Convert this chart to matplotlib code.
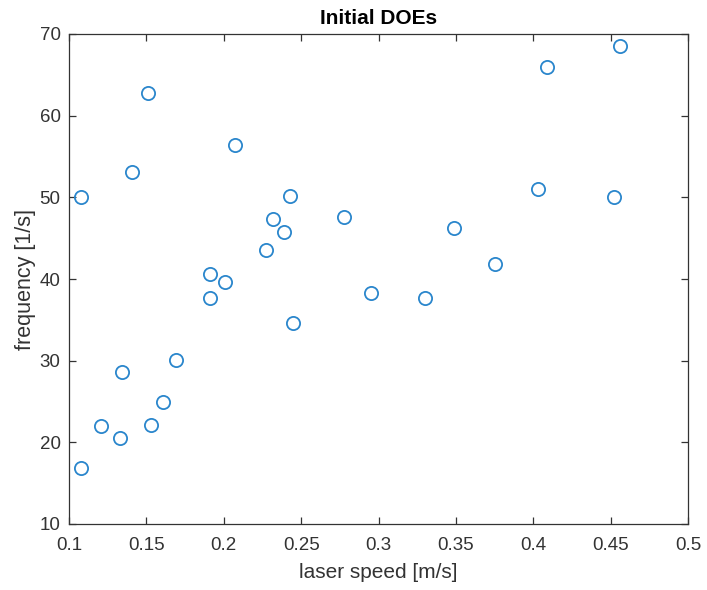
import matplotlib
matplotlib.use("Agg")
import matplotlib.pyplot as plt

# Initial design-of-experiments points: laser speed vs. frequency
laser_speed = [0.108, 0.141, 0.151, 0.2075, 0.243, 0.232, 0.239, 0.227, 0.278,
               0.191, 0.201, 0.456, 0.409, 0.403, 0.452, 0.349, 0.375, 0.191,
               0.2445, 0.295, 0.169, 0.134, 0.161, 0.121, 0.153, 0.133, 0.108,
               0.330]
frequency = [50.0, 53.1, 62.8, 56.4, 50.2, 47.4, 45.7, 43.5, 47.6,
             40.6, 39.6, 68.5, 65.9, 51.0, 50.1, 46.3, 41.8, 37.7,
             34.6, 38.3, 30.1, 28.6, 25.0, 22.0, 22.1, 20.5, 16.8,
             37.7]

x_ticks = [0.1, 0.15, 0.2, 0.25, 0.3, 0.35, 0.4, 0.45, 0.5]
x_tick_labels = ["0.1", "0.15", "0.2", "0.25", "0.3", "0.35", "0.4", "0.45", "0.5"]
y_ticks = [10, 20, 30, 40, 50, 60, 70]

plt.rcParams["font.family"] = ["Liberation Sans", "DejaVu Sans"]

fig = plt.figure(figsize=(7.07, 5.90), dpi=100)
ax = fig.add_axes([69 / 707, 1 - 524 / 590, (688 - 69) / 707, (524 - 34) / 590])

ax.plot(laser_speed, frequency, linestyle="none", marker="o",
        markersize=9.5, markerfacecolor="none",
        markeredgecolor="#2a86cc", markeredgewidth=1.3)

ax.set_xlim(0.1, 0.5)
ax.set_ylim(10, 70)
ax.set_xticks(x_ticks)
ax.set_xticklabels(x_tick_labels)
ax.set_yticks(y_ticks)

axis_color = (0.2, 0.2, 0.2)
for s in ax.spines.values():
    s.set_color(axis_color)
    s.set_linewidth(0.9)
ax.tick_params(direction="in", length=5, width=0.9, colors=axis_color,
               labelsize=13.5, top=True, right=True)
ax.tick_params(axis="x", pad=9)
ax.tick_params(axis="y", pad=6)

ax.set_xlabel("laser speed [m/s]", fontsize=15, color=axis_color, labelpad=7)
ax.set_ylabel("frequency [1/s]", fontsize=15.5, color=axis_color, labelpad=3)
ax.set_title("Initial DOEs", fontsize=15, fontweight="bold", color="black", pad=7)

fig.savefig("out.png", dpi=100)
